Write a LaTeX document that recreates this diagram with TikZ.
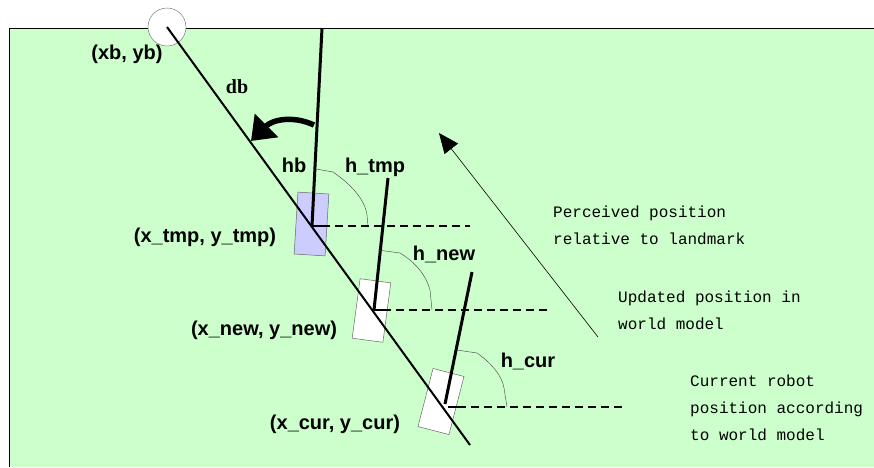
\documentclass[tikz,border=0pt]{standalone}
\usepackage{fontspec}
\usetikzlibrary{arrows.meta}
\newfontfamily\lblfont{Liberation Sans}
\newfontfamily\serifbold{Liberation Serif}
\newfontfamily\notefont{Liberation Mono}
\definecolor{fieldgreen}{HTML}{CCFFCC}
\definecolor{tmpblue}{HTML}{CCCCFF}
\tikzset{robot/.style={draw=black!60, line width=0.5pt, minimum width=31pt, minimum height=60pt, inner sep=0pt},
  lbl/.style={font=\lblfont\fontsize{20}{24}\selectfont\bfseries, inner sep=0pt, anchor=base},
  note/.style={font=\notefont\fontsize{16}{27}\selectfont, align=left, inner sep=0pt, anchor=base west},
  hdg/.style={line width=3pt},
  gap/.style={line width=1.1pt, dash pattern=on 8pt off 5pt},
  ang/.style={line width=0.45pt, black!70}}

\begin{document}
\begin{tikzpicture}[x=1pt, y=-1pt]
  \useasboundingbox (0,0) rectangle (874,467);
  % field
  \fill[fieldgreen] (9,28) rectangle (874,467);
  \draw[line width=1pt] (9,467) -- (9,28) -- (874,28);
  % landmark
  \node[circle, draw=black!60, fill=white, minimum size=38pt, inner sep=0pt] (bcn) at (167,27) {};
  % robot poses
  \node[robot, fill=tmpblue, minimum height=62pt, rotate=-3.5] (rtmp) at (311.5,224) {};
  \node[robot, fill=white, rotate=-7.6] (rnew) at (371.5,310.5) {};
  \node[robot, fill=white, minimum width=32pt, rotate=-14.5] (rcur) at (441,401.5) {};
  % line to landmark
  \coordinate (dend) at (470,445);
  \draw[line width=2pt] (bcn.center) -- (dend);
  % headings
  \coordinate (htop1) at (322,28);   \coordinate (hbot1) at (312,226);
  \coordinate (htop2) at (388,178);  \coordinate (hbot2) at (374,310);
  \coordinate (htop3) at (472,272);  \coordinate (hbot3) at (445,404);
  \draw[hdg] (htop1) -- (hbot1);
  \draw[hdg] (htop2) -- (hbot2);
  \draw[hdg] (htop3) -- (hbot3);
  % ticks and horizontals
  \coordinate (t1) at (322,226); \coordinate (e1) at (470,226);
  \coordinate (t2) at (383,310); \coordinate (e2) at (550,310);
  \coordinate (s3) at (448,407); \coordinate (t3) at (458,407); \coordinate (e3) at (625,407);
  \draw[line width=2pt] (hbot1) -- (t1);
  \draw[line width=2pt] (hbot2) -- (t2);
  \draw[line width=2pt] (s3) -- (t3);
  \draw[gap] (t1) -- (e1);
  \draw[gap] (t2) -- (e2);
  \draw[gap] (t3) -- (e3);
  % angle marks
  \draw[ang] (316,169) -- (333,172) .. controls (352,185) and (365,200) .. (367,215) -- (368,226);
  \draw[ang] (378,250) -- (400,253) .. controls (415,262) and (426,275) .. (430,290) -- (432,310);
  \draw[ang] (457,350) -- (477,353) .. controls (490,362) and (502,375) .. (504,388) -- (507,407);
  % turn arrow
  \coordinate (ta) at (314,125); \coordinate (tb) at (251,141);
  \draw[line width=5.5pt, -{Triangle[length=22pt, width=32pt]}] (ta) .. controls (292,115) and (272,120) .. (tb);
  % perceived direction
  \coordinate (pa) at (598,337); \coordinate (pb) at (439,133);
  \draw[line width=0.6pt, -{Triangle[length=20pt, width=17pt]}] (pa) -- (pb);
  % labels
  \node[lbl] (lxb) at (127,59) {(xb, yb)};
  \node[font=\serifbold\fontsize{20}{24}\selectfont\bfseries, inner sep=0pt, anchor=base] (ldb) at (237,93) {db};
  \node[lbl] (lhb) at (294,172) {hb};
  \node[lbl] (lht) at (375,172) {h\_tmp};
  \node[lbl] (lxt) at (205,242) {(x\_tmp, y\_tmp)};
  \node[lbl] (lhn) at (444,260) {h\_new};
  \node[lbl] (lxn) at (264,335) {(x\_new, y\_new)};
  \node[lbl] (lhc) at (528,367) {h\_cur};
  \node[lbl] (lxc) at (335,429) {(x\_cur, y\_cur)};
  % notes (anchored on last baseline)
  \node[note] (nper) at (553,244) {Perceived position\\relative to landmark};
  \node[note] (nupd) at (618,329) {Updated position in\\world model};
  \node[note] (ncur) at (690,440) {Current robot\\position according\\to world model};
\end{tikzpicture}
\end{document}
